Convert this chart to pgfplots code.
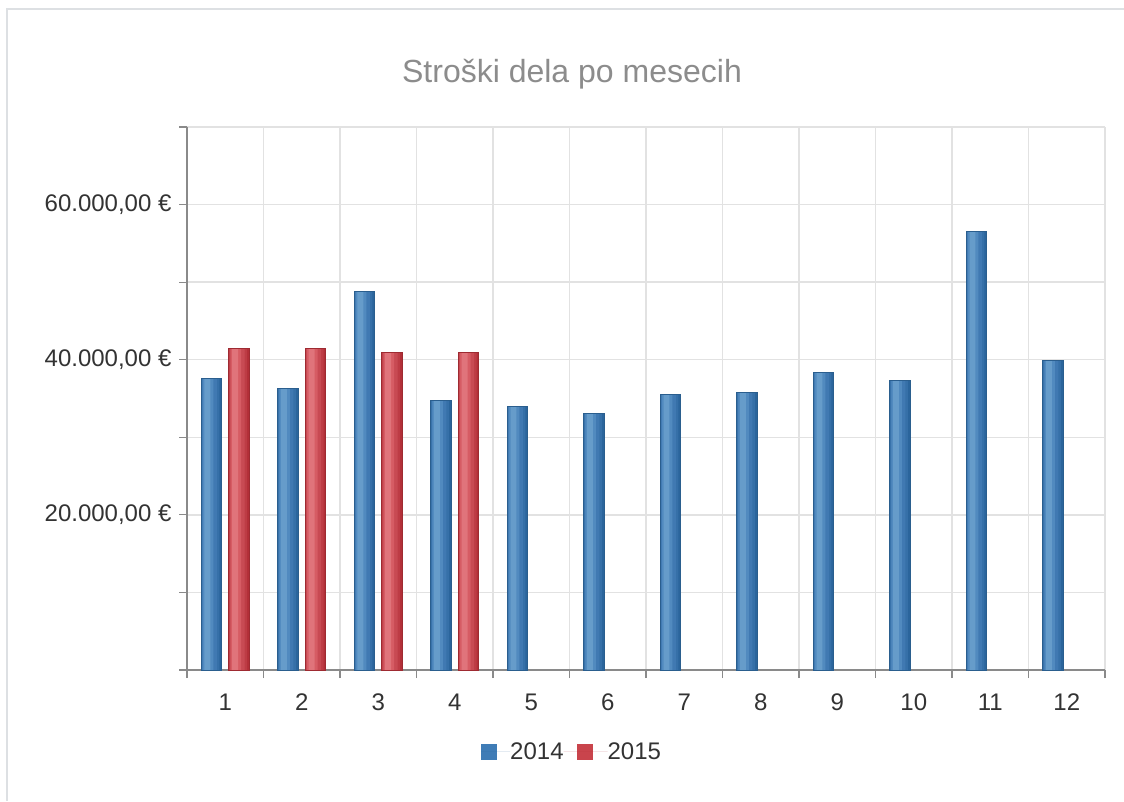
\documentclass[border=0pt]{standalone}
\usepackage{pgfplots}
\usepackage{pgfplotstable}
\pgfplotsset{compat=1.18}
\usepackage{fontspec}
\setmainfont{Liberation Sans}
\definecolor{bluebar}{HTML}{3F7CB6}
\definecolor{blueA}{HTML}{2B659C}
\definecolor{blueB}{HTML}{3670A8}
\definecolor{blueC}{HTML}{4079B2}
\definecolor{blueD}{HTML}{518ABF}
\definecolor{blueE}{HTML}{669CCA}
\definecolor{blueedge}{HTML}{2A5E8E}
\definecolor{redbar}{HTML}{C9444C}
\definecolor{redA}{HTML}{B22F38}
\definecolor{redB}{HTML}{BD3C45}
\definecolor{redC}{HTML}{C84A53}
\definecolor{redD}{HTML}{D65C64}
\definecolor{redE}{HTML}{E0747B}
\definecolor{rededge}{HTML}{9E2A31}
\definecolor{gridgray}{HTML}{E2E2E2}
\definecolor{axisgray}{HTML}{8A8A8A}
\definecolor{titlegray}{HTML}{8C8C8C}
\definecolor{labelgray}{HTML}{333333}
\definecolor{cardgray}{HTML}{DDE0E3}
\pgfplotstableread{
m v
1 37600
2 36300
3 48850
4 34780
5 33970
6 33040
7 35550
8 35810
9 38370
10 37310
11 56540
12 39870
}\dataA
\pgfplotstableread{
m v
1 41450
2 41450
3 40940
4 40940
}\dataB
\begin{document}
\begin{tikzpicture}[x=1pt,y=1pt]
\fill[white] (0,0) rectangle (1124,801);
\path[use as bounding box] (0,0) rectangle (1124,801);
\draw[cardgray, line width=2pt] (7,0) -- (7,792) -- (1124,792);
\node[font=\fontsize{32}{36}\selectfont, text=titlegray, anchor=base, inner sep=0pt] at (572,718) {Stroški dela po mesecih};
\begin{axis}[
  at={(187pt,131pt)}, anchor=south west,
  scale only axis, width=918pt, height=543pt,
  xmin=0.5, xmax=12.5, ymin=0, ymax=70000,
  scaled y ticks=false,
  axis lines=left, axis line style={-, axisgray, line width=1.2pt},
  tick align=outside, major tick length=8pt,
  tick style={axisgray, line width=1.2pt},
  xtick={0.5,1.5,...,12.5}, xticklabels={},
  extra x ticks={1,2,3,4,5,6,7,8,9,10,11,12},
  extra x tick labels={1,2,3,4,5,6,7,8,9,10,11,12},
  extra x tick style={major tick length=0pt, grid=none},
  ytick={0,10000,...,70000},
  yticklabels={{},{},{20.000,00 €},{},{40.000,00 €},{},{60.000,00 €},{}},
  grid=major, grid style={gridgray, line width=1.5pt},
  ticklabel style={font=\fontsize{24}{28}\selectfont, text=labelgray},
  xticklabel style={yshift=-20pt},
  yticklabel style={xshift=-4pt},
  legend columns=2,
  legend style={draw=none, fill=none, inner sep=0pt,
    at={(axis description cs:0.3203,-0.151)}, anchor=west,
    font=\fontsize{24}{28}\selectfont, text=labelgray,
    nodes={inner sep=0pt}, column sep=0pt},
  clip=false,
]
% 2014 series: base bar and lighter inner layers (gradient look)
\addplot[ybar, bar width=0.27, bar shift=-0.18, draw=none, fill=blueA,
  legend image code/.code={\fill[bluebar] (0pt,-8pt) rectangle (16pt,8pt); \path[draw=none] (0pt,0pt) -- (29pt,0pt);}]
  table[x=m, y=v] {\dataA};
\addlegendentry{2014}
\addplot[ybar, forget plot, bar width=0.235, bar shift=-0.193, draw=none, fill=blueB] table[x=m, y=v] {\dataA};
\addplot[ybar, forget plot, bar width=0.1935, bar shift=-0.2048, draw=none, fill=blueC] table[x=m, y=v] {\dataA};
\addplot[ybar, forget plot, bar width=0.137, bar shift=-0.2225, draw=none, fill=blueD] table[x=m, y=v] {\dataA};
\addplot[ybar, forget plot, bar width=0.078, bar shift=-0.2323, draw=none, fill=blueE] table[x=m, y=v] {\dataA};
\addplot[ybar, forget plot, bar width=0.27, bar shift=-0.18, draw=blueedge, line width=1pt, fill=none] table[x=m, y=v] {\dataA};
% 2015 series
\addplot[ybar, bar width=0.27, bar shift=0.18, draw=none, fill=redA,
  legend image code/.code={\path[draw=none] (-13pt,0pt) -- (0pt,0pt); \fill[redbar] (0pt,-8pt) rectangle (16pt,8pt); \path[draw=none] (0pt,0pt) -- (31pt,0pt);}]
  table[x=m, y=v] {\dataB};
\addlegendentry{2015}
\addplot[ybar, forget plot, bar width=0.235, bar shift=0.167, draw=none, fill=redB] table[x=m, y=v] {\dataB};
\addplot[ybar, forget plot, bar width=0.1935, bar shift=0.1552, draw=none, fill=redC] table[x=m, y=v] {\dataB};
\addplot[ybar, forget plot, bar width=0.137, bar shift=0.1375, draw=none, fill=redD] table[x=m, y=v] {\dataB};
\addplot[ybar, forget plot, bar width=0.078, bar shift=0.1277, draw=none, fill=redE] table[x=m, y=v] {\dataB};
\addplot[ybar, forget plot, bar width=0.27, bar shift=0.18, draw=rededge, line width=1pt, fill=none] table[x=m, y=v] {\dataB};
\end{axis}
\end{tikzpicture}
\end{document}
